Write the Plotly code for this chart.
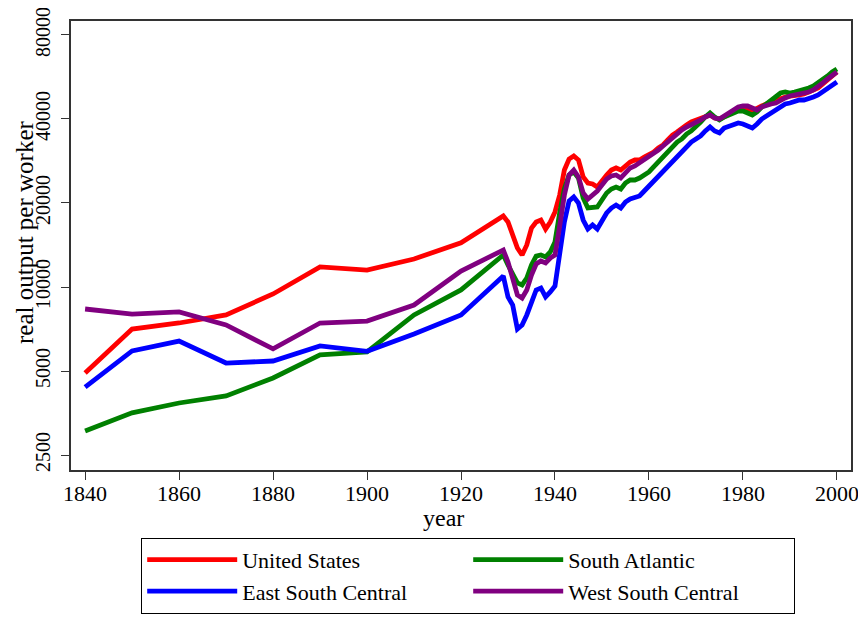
import plotly.graph_objects as go

years = [1840, 1850, 1860, 1870, 1880, 1890, 1900, 1910, 1920] + list(range(1929, 2001))

united_states = [
    4920, 7070, 7430, 7940, 9440, 11800, 11500, 12600, 14400,
    17970, 17100, 15360, 13800, 13020, 14140, 16270, 17100, 17380, 16140,
    17100, 18570, 21360, 26260, 28750, 29470, 28520, 24790, 23590, 23390,
    22820, 24180, 25200, 26260, 26700, 26260, 27140, 28050, 28520, 28520,
    29230, 29720, 30460, 31490, 32280, 33640, 35050, 35930, 37140, 38070,
    39020, 39670, 40000, 40670, 41340, 40330, 40000, 40670, 41680, 42730,
    43080, 43080, 43440, 42730, 43800, 44530, 45270, 46020, 46790, 47570,
    47960, 48360, 48360, 48760, 49160, 49980, 50400, 51660, 53390, 55180,
    57040, 58950,
]

south_atlantic = [
    3050, 3540, 3840, 4070, 4720, 5710, 5850, 7940, 9760,
    13020, 11990, 11220, 10340, 10170, 10770, 11990, 12910, 13020, 12810,
    13350, 14500, 18420, 22450, 25200, 25830, 24580, 20840, 19190, 19190,
    19350, 20500, 21720, 22450, 22820, 22450, 23590, 24180, 24180, 24580,
    25200, 25830, 26920, 28050, 29230, 30460, 31750, 33080, 33910, 35340,
    36230, 37440, 39020, 40670, 42030, 40670, 39670, 40670, 41340, 42030,
    42730, 42730, 42030, 41340, 42380, 44160, 45270, 46790, 48360, 49570,
    49980, 49570, 49980, 50400, 50810, 51660, 52520, 53840, 55180, 57040,
    58950, 60430,
]

east_south_central = [
    4380, 5900, 6400, 5340, 5430, 6150, 5880, 6785, 7940,
    10950, 9210, 8620, 7070, 7310, 7940, 8760, 9760, 9920, 9210,
    9600, 10080, 13130, 17100, 20330, 21010, 20000, 17380, 16140, 16680,
    16140, 17380, 18420, 19190, 19670, 19190, 20170, 20670, 20840, 21190,
    22080, 23010, 23780, 24790, 25830, 27140, 28280, 29470, 30720, 32010,
    33080, 33910, 34760, 36230, 37440, 36230, 35640, 37140, 37760, 38070,
    38700, 38380, 37760, 37140, 38380, 40000, 41000, 42030, 43080, 44530,
    45270, 45640, 46400, 46790, 46790, 47180, 47960, 48760, 49980, 51660,
    52950, 54280,
]

west_south_central = [
    8340, 8000, 8140, 7310, 6000, 7430, 7550, 8620, 11400,
    13570, 12290, 10860, 9360, 9130, 9760, 11040, 12090, 12390, 12190,
    12700, 13020, 16540, 21360, 25200, 26260, 24790, 21720, 20670, 21360,
    22080, 23200, 24380, 24990, 25200, 24580, 25620, 26700, 27140, 27820,
    28520, 29230, 30210, 30970, 32010, 33080, 34480, 35340, 36530, 37440,
    38070, 38700, 39670, 40670, 41340, 40330, 40000, 41000, 42030, 43080,
    44160, 44530, 44530, 43800, 43080, 44160, 44900, 45270, 45640, 46790,
    47570, 48360, 48760, 48760, 49160, 49980, 50810, 52090, 53840, 55640,
    57510, 58950,
]

series_names = ["United States", "South Atlantic", "East South Central", "West South Central"]
series_values = [united_states, south_atlantic, east_south_central, west_south_central]
series_colors = ["#ff0000", "#008000", "#0000ff", "#800080"]

y_ticks = [2500, 5000, 10000, 20000, 40000, 80000]
x_ticks = [1840, 1860, 1880, 1900, 1920, 1940, 1960, 1980, 2000]

FONT = "Liberation Serif, Times New Roman, serif"

fig = go.Figure()
for name, vals, col in zip(series_names, series_values, series_colors):
    fig.add_trace(go.Scatter(
        x=years, y=vals, mode="lines", name=name,
        line=dict(color=col, width=4.8),
    ))

fig.update_layout(
    width=866, height=619,
    margin=dict(l=63, r=23, t=13, b=157, autoexpand=False),
    paper_bgcolor="white", plot_bgcolor="white",
    font=dict(family=FONT, size=22, color="black"),
    showlegend=True,
    legend=dict(
        orientation="h",
        x=0.09, xanchor="left",
        y=-0.151, yanchor="top",
        bordercolor="black", borderwidth=1,
        bgcolor="white",
        font=dict(family=FONT, size=22, color="black"),
        entrywidth=221, entrywidthmode="pixels",
        itemwidth=90,
        traceorder="normal",
        tracegroupgap=0,
    ),
    annotations=[
        dict(
            text="real output per worker",
            xref="paper", yref="paper",
            x=0, y=0.53, xanchor="center", yanchor="middle",
            xshift=-47, textangle=-90, showarrow=False,
            borderpad=0,
            font=dict(family=FONT, size=25, color="black"),
        ),
        dict(
            text="year",
            xref="paper", yref="paper",
            x=0.478, y=0, xanchor="center", yanchor="middle",
            yshift=-48, showarrow=False,
            font=dict(family=FONT, size=24, color="black"),
        ),
    ],
)

fig.update_xaxes(
    range=[1837, 2003],
    tickvals=x_ticks,
    ticks="outside", ticklen=8, tickwidth=1.3, tickcolor="#333333",
    ticklabelstandoff=-5,
    showline=True, linecolor="#333333", linewidth=1.5, mirror=True,
    showgrid=False, zeroline=False,
    tickfont=dict(size=22),
)

fig.update_yaxes(
    type="log",
    range=[3.3442, 4.9532],
    tickvals=y_ticks,
    ticktext=[str(v) for v in y_ticks],
    tickangle=-90,
    ticks="outside", ticklen=8, tickwidth=1.3, tickcolor="#333333",
    ticklabelstandoff=3,
    ticklabeloverflow="allow",
    showline=True, linecolor="#333333", linewidth=1.5, mirror=True,
    showgrid=False, zeroline=False,
    tickfont=dict(size=20),
)

fig.write_html("out.html")
